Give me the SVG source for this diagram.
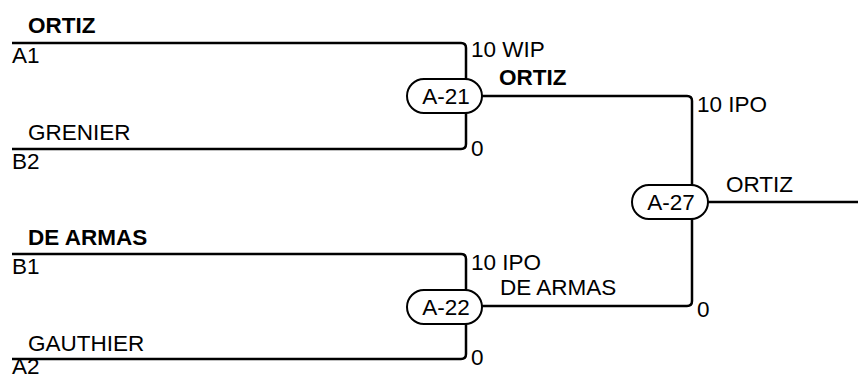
<svg xmlns="http://www.w3.org/2000/svg" width="858" height="379" viewBox="0 0 858 379">
<style>
text{font-family:"Liberation Sans",Arial,sans-serif;font-size:22.5px;fill:#000}
.b{font-weight:bold}
.c{text-anchor:middle}
.w{fill:none;stroke:#000;stroke-width:2.5}
.n{fill:#fff;stroke:#000;stroke-width:2}
</style>
<rect width="858" height="379" fill="#fff"/>
<g id="connectors">
<path class="w" d="M12 43 H461 Q466 43 466 48 V144 Q466 149 461 149 H12"/>
<path class="w" d="M12 254 H461 Q466 254 466 259 V354 Q466 359 461 359 H12"/>
<path class="w" d="M482 96 H687 Q692 96 692 101 V301 Q692 306 687 306 H482"/>
<path class="w" d="M708 202 H858"/>
</g>
<g id="A-21"><rect class="n" x="407" y="79" width="75" height="34" rx="17"/><text class="c" x="446" y="104">A-21</text></g>
<g id="A-22"><rect class="n" x="407" y="290" width="75" height="34" rx="17"/><text class="c" x="446" y="315">A-22</text></g>
<g id="A-27"><rect class="n" x="632" y="185" width="76" height="34" rx="17"/><text class="c" x="671" y="210">A-27</text></g>
<g id="labels">
<text class="b" x="28" y="33">ORTIZ</text>
<text x="12" y="63">A1</text>
<text x="28" y="140">GRENIER</text>
<text x="12" y="169">B2</text>
<text class="b" x="28" y="245">DE ARMAS</text>
<text x="12" y="274">B1</text>
<text x="28" y="351">GAUTHIER</text>
<text x="12" y="374">A2</text>
<text x="471" y="57">10 WIP</text>
<text class="b" x="499" y="85">ORTIZ</text>
<text x="471" y="156">0</text>
<text x="471" y="270">10 IPO</text>
<text x="500" y="295">DE ARMAS</text>
<text x="471" y="365">0</text>
<text x="697" y="112">10 IPO</text>
<text x="726" y="192">ORTIZ</text>
<text x="697" y="317">0</text>
</g>
</svg>
